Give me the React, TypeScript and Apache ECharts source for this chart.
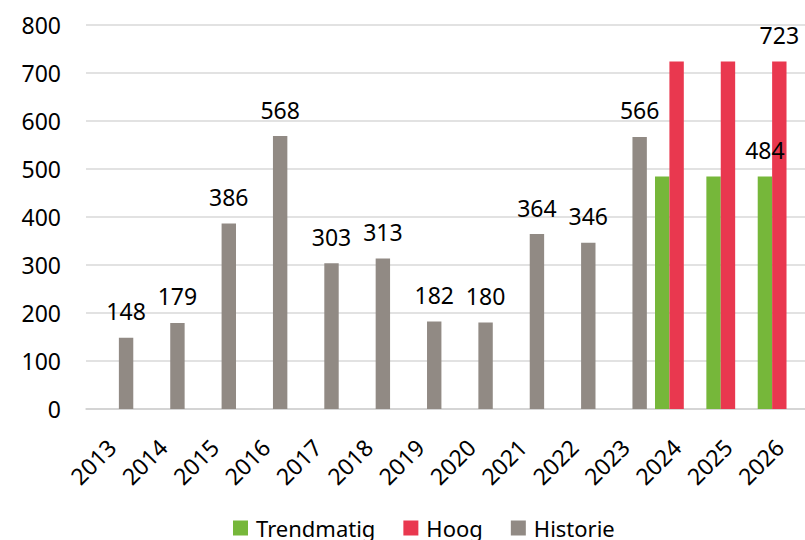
import React, { useEffect, useRef } from "react";
import * as echarts from "echarts";

const categories = ["2013", "2014", "2015", "2016", "2017", "2018", "2019", "2020", "2021", "2022", "2023", "2024", "2025", "2026"];
const trendmatig = [null, null, null, null, null, null, null, null, null, null, null, 484, 484, 484];
const hoog = [null, null, null, null, null, null, null, null, null, null, null, 723, 723, 723];
const historie = [148, 179, 386, 568, 303, 313, 182, 180, 364, 346, 566, null, null, null];
const yTicks = { min: 0, max: 800, interval: 100 };

const FONT = "'Noto Sans', 'Open Sans', sans-serif";
const FS = 23;

export default function App() {
  const ref = useRef<HTMLDivElement>(null);
  useEffect(() => {
    if (!ref.current) return;
    const chart = echarts.init(ref.current, undefined, { renderer: "svg" });
    const lastOnly = (arr: (number | null)[]) =>
      arr.map((v, i) =>
        v === null
          ? null
          : i === arr.length - 1
          ? { value: v, label: { show: true } }
          : { value: v, label: { show: false } }
      );
    const labelBase = {
      position: "top" as const,
      distance: 15,
      color: "#000",
      fontFamily: FONT,
      fontSize: FS,
    };
    chart.setOption({
      animation: false,
      textStyle: { fontFamily: FONT },
      grid: { left: 86, right: -3, top: 24.5, bottom: 131, containLabel: false },
      legend: {
        left: 233,
        top: 517,
        padding: 0,
        itemWidth: 15,
        itemHeight: 15,
        itemGap: 28,
        icon: "rect",
        textStyle: { fontFamily: FONT, fontSize: 22, color: "#000", padding: [0, 0, 0, 3] },
        data: ["Trendmatig", "Hoog", "Historie"],
      },
      xAxis: {
        type: "category",
        data: categories,
        axisLine: { show: true, lineStyle: { color: "#D0D0D0", width: 1.5 } },
        axisTick: { show: false },
        axisLabel: {
          rotate: 45,
          interval: 0,
          margin: 34,
          color: "#000",
          fontFamily: FONT,
          fontSize: FS,
        },
      },
      yAxis: {
        type: "value",
        min: yTicks.min,
        max: yTicks.max,
        interval: yTicks.interval,
        axisLine: { show: false },
        axisTick: { show: false },
        splitLine: { lineStyle: { color: "#D9D9D9", width: 1.5 } },
        axisLabel: { margin: 25, color: "#000", fontFamily: FONT, fontSize: FS },
      },
      series: [
        {
          name: "Trendmatig",
          type: "bar",
          barWidth: 14.4,
          barGap: "0%",
          itemStyle: { color: "#76B73A" },
          label: { ...labelBase, show: false },
          data: lastOnly(trendmatig),
        },
        {
          name: "Hoog",
          type: "bar",
          barWidth: 14.4,
          barGap: "0%",
          itemStyle: { color: "#E9384F" },
          label: { ...labelBase, show: false },
          data: lastOnly(hoog),
        },
        {
          name: "Historie",
          type: "bar",
          barWidth: 14.4,
          barGap: "0%",
          itemStyle: { color: "#918A84" },
          label: { ...labelBase, show: true },
          data: historie,
        },
      ],
    });
    return () => chart.dispose();
  }, []);
  return (
    <div
      ref={ref}
      style={{ position: "fixed", left: 0, top: 0, width: 805, height: 540, background: "#fff" }}
    />
  );
}
